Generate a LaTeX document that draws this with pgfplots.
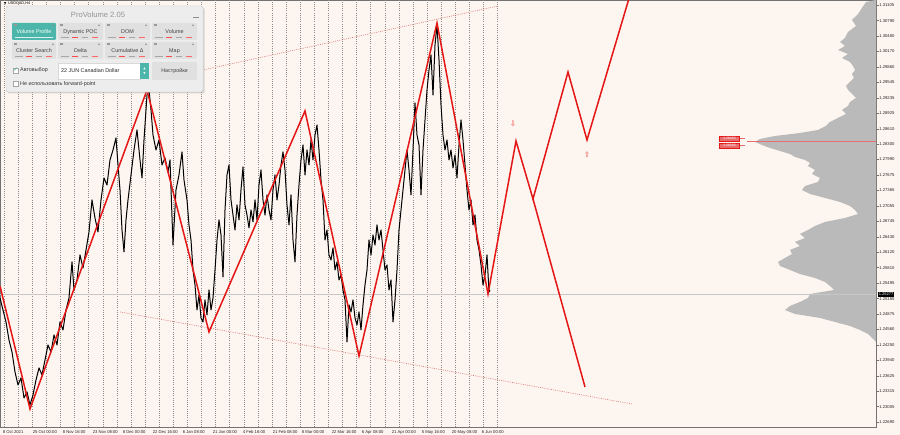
\documentclass[border=0pt]{standalone}
\usepackage{pgfplots}
\pgfplotsset{compat=1.18}
\usepackage{fontspec}
\setmainfont{Liberation Sans}
\newfontfamily\dejavu{DejaVu Sans}
\definecolor{bgcol}{RGB}{253,245,239}
\definecolor{zzred}{RGB}{228,22,22}
\definecolor{dotred}{RGB}{222,120,120}
\definecolor{profcol}{RGB}{186,186,186}
\definecolor{panelbg}{RGB}{237,237,237}
\definecolor{btngray}{RGB}{224,224,224}
\definecolor{pvteal}{RGB}{77,182,170}
\definecolor{lblred}{RGB}{232,110,110}
\newcommand{\tk}{\fontsize{4.2}{5}\selectfont}
\newcommand{\btnf}{\fontsize{5.4}{6}\selectfont}
\begin{document}
\begin{tikzpicture}
\useasboundingbox (0,0) rectangle (900pt,435pt);
\fill[bgcol] (0,0) rectangle (900pt,435pt);
\begin{axis}[
  at={(0pt,8pt)}, anchor=south west,
  width=876pt, height=427pt, scale only axis,
  xmin=0, xmax=876, ymin=1.22595, ymax=1.31206,
  axis line style={draw=black!55, line width=0.5pt},
  xtick pos=bottom,
  xtick={2,32,62,92,122,152,182,212,242,272,301,331,361,391,421,451,481},
  xticklabels={8 Oct 2021, 25 Oct 00:00, 8 Nov 16:00, 23 Nov 08:00, 8 Dec 00:00, 22 Dec 16:00, 6 Jan 08:00, 21 Jan 00:00, 4 Feb 16:00, 21 Feb 08:00, 8 Mar 00:00, 22 Mar 16:00, 6 Apr 08:00, 21 Apr 00:00, 5 May 16:00, 20 May 08:00, 6 Jun 00:00},
  xticklabel style={anchor=north west, inner sep=0.6pt, font=\tk, text=black!85},
  x tick style={draw=none},
  extra x ticks={4,18.1,...,498},
  extra x tick labels={},
  extra x tick style={grid=major, major tick length=0pt, major grid style={draw=black!45, line width=0.4pt, dash pattern=on 0.8pt off 1.4pt}},
  ytick pos=right, yticklabel pos=right,
  ytick={1.31105,1.30790,1.30480,1.30170,1.29860,1.29545,1.29235,1.28925,1.28610,1.28300,1.27990,1.27675,1.27365,1.27055,1.26745,1.26430,1.26120,1.25810,1.25495,1.25185,1.24875,1.24560,1.24250,1.23940,1.23625,1.23315,1.23005,1.22690},
  yticklabels={1.31105,1.30790,1.30480,1.30170,1.29860,1.29545,1.29235,1.28925,1.28610,1.28300,1.27990,1.27675,1.27365,1.27055,1.26745,1.26430,1.26120,1.25810,1.25495,1.25185,1.24875,1.24560,1.24250,1.23940,1.23625,1.23315,1.23005,1.22690},
  tick align=outside, major tick length=2.5pt,
  y tick style={draw=black!55, line width=0.4pt},
  yticklabel style={anchor=west, inner sep=0.6pt, font=\tk, text=black!85},
]
% volume profile
\addplot[fill=profcol, draw=none] coordinates {(876,1.31206) (866,1.31166) (862,1.31045) (858,1.30923) (852,1.30803) (856,1.30682) (848,1.30561) (845,1.30440) (840,1.30360) (845,1.30279) (838,1.30198) (848,1.30117) (842,1.30037) (850,1.29956) (853,1.29875) (855,1.29794) (852,1.29713) (854,1.29633) (850,1.29553) (846,1.29472) (848,1.29391) (852,1.29310) (856,1.29230) (850,1.29150) (848,1.29069) (842,1.28988) (846,1.28907) (838,1.28827) (830,1.28746) (826,1.28665) (818,1.28585) (800,1.28524) (775,1.28464) (760,1.28404) (755,1.28343) (762,1.28282) (770,1.28222) (780,1.28161) (790,1.28100) (795,1.28040) (805,1.27980) (810,1.27919) (808,1.27859) (815,1.27778) (812,1.27697) (820,1.27617) (818,1.27536) (805,1.27455) (802,1.27375) (810,1.27294) (825,1.27214) (840,1.27133) (850,1.27052) (855,1.26971) (858,1.26890) (845,1.26810) (825,1.26730) (815,1.26649) (808,1.26568) (800,1.26487) (805,1.26407) (795,1.26326) (800,1.26245) (790,1.26165) (792,1.26084) (785,1.26004) (778,1.25923) (780,1.25842) (790,1.25761) (800,1.25680) (815,1.25600) (825,1.25520) (830,1.25439) (834,1.25358) (810,1.25277) (808,1.25197) (800,1.25117) (790,1.25036) (785,1.24955) (795,1.24874) (820,1.24794) (835,1.24713) (850,1.24632) (860,1.24552) (868,1.24471) (872,1.24391) (876,1.24310)} -- cycle;
% current price line
\addplot[black!22, line width=0.5pt] coordinates {(0,1.25277) (876,1.25277)};
% level line in profile
\addplot[lblred, line width=0.5pt] coordinates {(747,1.28353) (876,1.28353)};
% dotted channel lines
\addplot[dotred, line width=0.6pt, dash pattern=on 1pt off 1.2pt] coordinates {(120,1.29432) (498,1.31085)};
\addplot[dotred, line width=0.6pt, dash pattern=on 1pt off 1.2pt] coordinates {(120,1.24915) (632,1.23059)};
% price
\addplot[black, line width=1pt, line join=round] coordinates {(0,1.25197) (3,1.24955) (6,1.24713) (9,1.24350) (12,1.24108) (15,1.23705) (18,1.23442) (21,1.23584) (24,1.23181) (27,1.23302) (30,1.23039) (33,1.23241) (36,1.23543) (39,1.23786) (42,1.23644) (45,1.23947) (48,1.24249) (51,1.24108) (54,1.24451) (57,1.24249) (60,1.24713) (63,1.24552) (66,1.24955) (69,1.25197) (72,1.25923) (74,1.25358) (77,1.25560) (80,1.26064) (83,1.25802) (86,1.26165) (89,1.26528) (92,1.27173) (95,1.26810) (98,1.26528) (101,1.27173) (104,1.27617) (107,1.27475) (110,1.27980) (113,1.28181) (116,1.28424) (118,1.27879) (120,1.27375) (122,1.26568) (124,1.26125) (126,1.26770) (128,1.27173) (131,1.27677) (134,1.28181) (137,1.28585) (140,1.27980) (142,1.27617) (144,1.28383) (147,1.29290) (149,1.29391) (151,1.28988) (153,1.28484) (156,1.28181) (159,1.28383) (162,1.27879) (165,1.28020) (168,1.27738) (170,1.27980) (173,1.26265) (176,1.27375) (179,1.27677) (182,1.28141) (184,1.27576) (187,1.27173) (189,1.26669) (191,1.26366) (193,1.25761) (195,1.25459) (197,1.24955) (199,1.25257) (201,1.24794) (203,1.24713) (205,1.25157) (207,1.24854) (209,1.25358) (211,1.24955) (213,1.25197) (215,1.25761) (217,1.26366) (219,1.26770) (221,1.26467) (223,1.25620) (225,1.26971) (227,1.27677) (229,1.27879) (231,1.27173) (233,1.26870) (235,1.26568) (237,1.27072) (239,1.26770) (241,1.27375) (243,1.27839) (245,1.27072) (247,1.26870) (249,1.26609) (251,1.26971) (253,1.26730) (255,1.27173) (257,1.26770) (259,1.27475) (261,1.27778) (263,1.27173) (265,1.26870) (267,1.27274) (269,1.26971) (271,1.26770) (273,1.27375) (275,1.27677) (277,1.27173) (279,1.27475) (281,1.27879) (283,1.28141) (285,1.27778) (287,1.27072) (289,1.26669) (291,1.27274) (293,1.26366) (295,1.25923) (297,1.26870) (299,1.27475) (301,1.27980) (303,1.28282) (305,1.27677) (307,1.28181) (309,1.27879) (311,1.28383) (313,1.27980) (315,1.28484) (317,1.28685) (319,1.28181) (321,1.27576) (323,1.27173) (325,1.26366) (327,1.26568) (329,1.26064) (331,1.25963) (333,1.26205) (335,1.25761) (337,1.25923) (339,1.25560) (341,1.25660) (343,1.25358) (345,1.25157) (347,1.24310) (349,1.25056) (351,1.24915) (353,1.25157) (355,1.24794) (357,1.24652) (359,1.24915) (361,1.24552) (363,1.25056) (365,1.25459) (367,1.25761) (369,1.26366) (371,1.26064) (373,1.26467) (375,1.26265) (377,1.26669) (379,1.26366) (381,1.26568) (383,1.26165) (385,1.25761) (387,1.25862) (389,1.25358) (391,1.25560) (393,1.24713) (395,1.25157) (397,1.25761) (399,1.26568) (401,1.26971) (403,1.27375) (405,1.27778) (407,1.28181) (409,1.27778) (411,1.27274) (413,1.28181) (415,1.29129) (417,1.28484) (419,1.28282) (421,1.27274) (423,1.28181) (425,1.28786) (427,1.29391) (429,1.29794) (431,1.30097) (433,1.29290) (435,1.30299) (437,1.30702) (439,1.29996) (441,1.29089) (443,1.28484) (445,1.28181) (447,1.28383) (449,1.27980) (451,1.28181) (453,1.27819) (455,1.28080) (457,1.27617) (459,1.28282) (461,1.28786) (463,1.28383) (465,1.27879) (467,1.27375) (469,1.26971) (471,1.27173) (473,1.26669) (475,1.26870) (477,1.26366) (479,1.26165) (481,1.25862) (483,1.25459) (485,1.25660) (487,1.26064) (489,1.25318) (490,1.25358)};
% zigzag
\addplot[zzred, line width=1.5pt, line join=miter] coordinates {(0,1.25439) (30,1.22959) (147,1.29391) (209,1.24512) (305,1.28968) (359,1.24027) (437,1.30742) (488,1.25277) (516,1.28363) (533,1.27194) (568,1.29754) (587,1.28383) (630,1.31307)};
\addplot[zzred, line width=1.5pt] coordinates {(533,1.27194) (585,1.23402)};
\end{axis}
\begin{scope}[shift={(0pt,435pt)}, x=1pt, y=-1pt]
% current price label
\node[fill=black, text=white, font=\fontsize{4}{4.5}\selectfont, inner sep=0.6pt, anchor=west] at (878,294.5) {1.25277};
% level labels
\draw[lblred, line width=0.4pt] (740,138.5) -- (745,138.5);
\draw[lblred, line width=0.4pt] (740,145.5) -- (745,145.5);
\node[fill=lblred, draw=zzred, line width=0.3pt, text=white, font=\fontsize{3.4}{4}\selectfont, inner sep=0.5pt, minimum width=20pt, minimum height=5.5pt] at (729.5,138.5) {1.28403};
\node[fill=lblred, draw=zzred, line width=0.3pt, text=white, font=\fontsize{3.4}{4}\selectfont, inner sep=0.5pt, minimum width=20pt, minimum height=5.5pt] at (729.5,145.5) {1.28282};
% arrows
\node[text=zzred!80, font=\dejavu\fontsize{7.5}{8}\selectfont, inner sep=0pt] at (513,124) {⇩};
\node[text=zzred!80, font=\dejavu\fontsize{7.5}{8}\selectfont, inner sep=0pt] at (587,155) {⇧};
% symbol label
\node[anchor=west, inner sep=0pt] at (4,3.2) {{\dejavu\fontsize{3}{3}\selectfont ▼}\,{\fontsize{3.8}{4}\selectfont USDCAD,H4}};
% panel
\fill[black!30, opacity=0.5, rounded corners=2pt] (7.5,7.5) rectangle (204.5,93.5);
\fill[panelbg, draw=black!22, line width=0.4pt, rounded corners=2pt] (6,6) rectangle (203,92);
\node[text=black!42, font=\fontsize{7.6}{8}\selectfont] at (98,14.5) {ProVolume 2.05};
\draw[black!45, line width=0.7pt] (193,17) -- (199,17);
% buttons row 1
\fill[pvteal, rounded corners=1pt] (12,23) rectangle (56,40);
\node[white, font=\btnf] at (34,32) {Volume Profile};
\fill[btngray, rounded corners=1pt] (58,23) rectangle (103,40);
\node[black!75, font=\btnf] at (80.5,32) {Dynamic POC};
\fill[btngray, rounded corners=1pt] (105,23) rectangle (150,40);
\node[black!75, font=\btnf] at (127.5,32) {DOM};
\fill[btngray, rounded corners=1pt] (152,23) rectangle (197,40);
\node[black!75, font=\btnf] at (174.5,32) {Volume};
% buttons row 2
\fill[btngray, rounded corners=1pt] (12,42) rectangle (56,59);
\node[black!75, font=\btnf] at (34,51) {Cluster Search};
\fill[btngray, rounded corners=1pt] (58,42) rectangle (103,59);
\node[black!75, font=\btnf] at (80.5,51) {Delta};
\fill[btngray, rounded corners=1pt] (105,42) rectangle (150,59);
\node[black!75, font=\btnf] at (127.5,51) {Cumulative Δ};
\fill[btngray, rounded corners=1pt] (152,42) rectangle (197,59);
\node[black!75, font=\btnf] at (174.5,51) {Map};
% small button decorations
\foreach \bx in {12,58,105,152}{
  \foreach \by in {23,42}{
    \fill[black!40] (\bx+2,\by+1.5) rectangle (\bx+5,\by+3);
    \fill[black!45] (\bx+41,\by+2.2) circle (0.9pt);
    \draw[black!35, line width=0.5pt] (\bx+3,\by+14.5) -- (\bx+11,\by+14.5);
    \draw[red!70, line width=0.5pt] (\bx+14,\by+14.5) -- (\bx+20,\by+14.5);
    \draw[black!35, line width=0.5pt] (\bx+24,\by+14.5) -- (\bx+30,\by+14.5);
    \draw[red!60, line width=0.5pt] (\bx+34,\by+14.5) -- (\bx+40,\by+14.5);
  }
}
\draw[white!80!pvteal, line width=0.6pt] (15,37.5) -- (53,37.5);
% row 3
\fill[white, draw=black!35, line width=0.3pt] (13,68) rectangle (18,73);
\node[text=pvteal, font=\dejavu\fontsize{6}{6}\selectfont] at (16,69.5) {✓};
\node[anchor=west, text=black!80, font=\btnf, inner sep=0pt] at (20,70.5) {Автовыбор};
\fill[white, draw=black!15, line width=0.3pt] (58,63) rectangle (140,79);
\node[anchor=west, text=black!85, font=\btnf, inner sep=0pt] at (61,71) {22 JUN Canadian Dollar};
\fill[pvteal] (140,63) rectangle (149,79);
\node[text=white, font=\dejavu\fontsize{3}{3}\selectfont] at (144.5,68.5) {▲};
\node[text=white, font=\dejavu\fontsize{3}{3}\selectfont] at (144.5,73.5) {▼};
\fill[btngray, rounded corners=1pt] (152,62) rectangle (197,80);
\node[black!75, font=\btnf] at (174.5,71) {Настройки};
% row 4
\fill[white, draw=black!35, line width=0.3pt] (13,81.5) rectangle (18,86.5);
\node[anchor=west, text=black!80, font=\btnf, inner sep=0pt] at (20,84) {Не использовать forward-point};
\end{scope}
\end{tikzpicture}
\end{document}
